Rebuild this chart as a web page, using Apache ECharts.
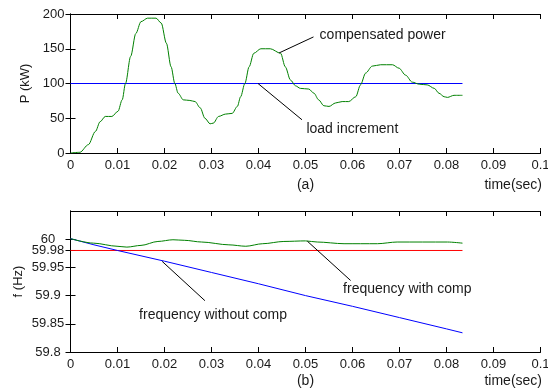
<!DOCTYPE html>
<html>
<head>
<meta charset="utf-8">
<script src="https://cdn.jsdelivr.net/npm/echarts@6/dist/echarts.min.js"></script>
<style>
  html, body { margin: 0; padding: 0; background: #fff; }
  #main { width: 548px; height: 389px; }
</style>
</head>
<body>
<div id="main"></div>
<script>
// (a) compensated power, kW
var pTime = [0, 0.002, 0.0038, 0.0053, 0.0063, 0.0074, 0.0088, 0.0101, 0.011, 0.0117,
  0.0128, 0.0139, 0.015, 0.0164, 0.0182, 0.0193, 0.0204, 0.0214, 0.0222, 0.0229,
  0.024, 0.0254, 0.0265, 0.0276, 0.0286, 0.0297, 0.0304, 0.0315, 0.033, 0.0344,
  0.0355, 0.0362, 0.0371, 0.038, 0.039, 0.0405, 0.0425, 0.0447, 0.0457, 0.0468,
  0.0479, 0.0489, 0.0507, 0.0518, 0.0528, 0.0539, 0.055, 0.0564, 0.0578, 0.0592,
  0.0607, 0.0617, 0.0628, 0.0642, 0.066, 0.0685, 0.0699, 0.0713, 0.0727, 0.0742,
  0.0759, 0.0774, 0.0784, 0.0795, 0.0802, 0.0816, 0.0834];
var pComp = [0, 1, 12, 31, 45, 52.6, 52.6, 60, 76.5, 100,
  139, 172, 189, 194, 194, 187, 158, 124, 100, 86,
  76.5, 75.6, 74, 65, 50, 42, 43, 52.6, 56, 57,
  67, 81, 100, 124, 143.5, 150, 150, 143.5, 124, 105,
  96.6, 93, 92, 86, 76.5, 68, 67, 72, 74, 74,
  81, 98, 115, 125, 127, 127, 122, 112, 102, 99,
  98, 93, 86, 81, 80, 83, 83];
var loadTime = [0, 0.0834];
var loadLevel = [100, 100];

// (b) frequency, Hz
var fWithTime = [0, 0.0049, 0.0099, 0.012, 0.015, 0.0186, 0.0218, 0.0243, 0.0279, 0.0337,
  0.0373, 0.0409, 0.0454, 0.05, 0.0525, 0.0582, 0.0653, 0.0695, 0.0802, 0.0834];
var fWith = [60.001, 59.993, 59.9875, 59.986, 59.989, 59.996, 59.999, 59.998, 59.995, 59.990,
  59.9875, 59.992, 59.996, 59.997, 59.995, 59.992, 59.992, 59.995, 59.995, 59.993];
var fNoTime = [0, 0.005, 0.01, 0.02, 0.03, 0.04, 0.05, 0.06, 0.07, 0.08, 0.0834];
var fWithout = [60.001, 59.99, 59.98, 59.961, 59.941, 59.921, 59.9, 59.881, 59.861, 59.841, 59.834];
var refTime = [0, 0.0834];
var refFreq = [59.98, 59.98];
var fTicks = [59.8, 59.85, 59.9, 59.95, 59.98, 60];
var fLabelsA = [59.8, 59.85, 59.9, 59.95, 60];
var fLabelsB = [59.98];

// annotations: [grid, from, to, textAt, text]
var notes = [
  [0, [0.0444, 144], [0.0517, 167], [0.0530, 169.8], 'compensated power'],
  [0, [0.0399, 100], [0.04925, 47.8], [0.0502, 34.5], 'load increment'],
  [1, [0.0195, 59.9607], [0.0286, 59.891], [0.0146, 59.8655], 'frequency without comp'],
  [1, [0.0504, 59.9964], [0.0596, 59.9268], [0.058, 59.912], 'frequency with comp']
];

function zip(xs, ys) {
  return xs.map(function (x, i) { return [x, ys[i]]; });
}

var font = 'Liberation Sans, Arial, sans-serif';
var txt = '#1a1a1a';
var fmt = function (v) { return String(+v.toFixed(2)); };

function xAx(grid, pos, name) {
  return {
    type: 'value', gridIndex: grid, position: pos, min: 0, max: 0.1, interval: 0.01,
    axisLine: { show: true, onZero: false, lineStyle: { color: '#000', width: 1 } },
    axisTick: { show: true, inside: true, length: 5, lineStyle: { color: '#000' } },
    axisLabel: {
      show: pos === 'bottom', margin: 6, color: txt, fontSize: 13, fontFamily: font, formatter: fmt
    },
    splitLine: { show: false },
    name: name, nameLocation: 'middle', nameGap: grid === 0 ? 25 : 22,
    nameTextStyle: { color: txt, fontSize: 14, fontFamily: font }
  };
}

// frequency axis label layer (two layers so close labels both show)
function fLabelAx(values) {
  return {
    type: 'value', gridIndex: 1, position: 'left', min: 59.8, max: 60.05,
    axisLine: { show: false }, axisTick: { show: false }, splitLine: { show: false },
    axisLabel: {
      customValues: values, align: 'center', margin: 22.5, color: txt, fontSize: 13, fontFamily: font,
      showMinLabel: true, showMaxLabel: true, formatter: fmt
    }
  };
}

var chart = echarts.init(document.getElementById('main'));
var option = {
  animation: false,
  grid: [
    { left: 70.5, right: 7.5, top: 14, height: 139, outerBoundsMode: 'none' },
    { left: 70.5, right: 7.5, top: 211, height: 141, outerBoundsMode: 'none' }
  ],
  xAxis: [
    xAx(0, 'bottom', '(a)'), xAx(0, 'top', ''),
    xAx(1, 'bottom', '(b)'), xAx(1, 'top', '')
  ],
  yAxis: [
    {
      type: 'value', gridIndex: 0, position: 'left', min: 0, max: 200, interval: 50,
      axisLine: { show: true, lineStyle: { color: '#000' } },
      axisTick: { show: true, inside: true, length: 5, lineStyle: { color: '#000' } },
      axisLabel: { margin: 6, color: txt, fontSize: 13, fontFamily: font },
      splitLine: { show: false },
      name: 'P (kW)', nameLocation: 'middle', nameGap: 31,
      nameTextStyle: { color: txt, fontSize: 13, fontFamily: font }
    },
    {
      type: 'value', gridIndex: 0, position: 'right', min: 0, max: 200, interval: 50,
      axisLine: { show: true, lineStyle: { color: '#000' } },
      axisTick: { show: true, inside: true, length: 5, lineStyle: { color: '#000' } },
      axisLabel: { show: false }, splitLine: { show: false }
    },
    {
      type: 'value', gridIndex: 1, position: 'left', min: 59.8, max: 60.05,
      axisLine: { show: true, lineStyle: { color: '#000' } },
      axisTick: { show: true, inside: true, length: 5, customValues: fTicks, lineStyle: { color: '#000' } },
      axisLabel: { show: false },
      splitLine: { show: false },
      name: 'f (Hz)', nameLocation: 'middle', nameGap: 46,
      nameTextStyle: { color: txt, fontSize: 13, fontFamily: font }
    },
    {
      type: 'value', gridIndex: 1, position: 'right', min: 59.8, max: 60.05,
      axisLine: { show: true, lineStyle: { color: '#000' } },
      axisTick: { show: true, inside: true, length: 5, customValues: fTicks, lineStyle: { color: '#000' } },
      axisLabel: { show: false }, splitLine: { show: false }
    },
    fLabelAx(fLabelsA),
    fLabelAx(fLabelsB)
  ],
  series: [
    {
      type: 'line', xAxisIndex: 0, yAxisIndex: 0, data: zip(loadTime, loadLevel),
      showSymbol: false, lineStyle: { color: '#0000ff', width: 1 }
    },
    {
      type: 'line', xAxisIndex: 0, yAxisIndex: 0, data: zip(pTime, pComp),
      showSymbol: false, smooth: 0.3, smoothMonotone: 'x',
      lineStyle: { color: '#008000', width: 1 }
    },
    {
      type: 'line', xAxisIndex: 2, yAxisIndex: 2, data: zip(refTime, refFreq),
      showSymbol: false, lineStyle: { color: '#ff0000', width: 1 }
    },
    {
      type: 'line', xAxisIndex: 2, yAxisIndex: 2, data: zip(fNoTime, fWithout),
      showSymbol: false, lineStyle: { color: '#0000ff', width: 1 }
    },
    {
      type: 'line', xAxisIndex: 2, yAxisIndex: 2, data: zip(fWithTime, fWith),
      showSymbol: false, smooth: 0.3, smoothMonotone: 'x',
      lineStyle: { color: '#008000', width: 1 }
    }
  ]
};
chart.setOption(option);

// leader lines and labels placed through the grid scales
var gfx = [];
notes.forEach(function (n) {
  var a = chart.convertToPixel({ gridIndex: n[0] }, n[1]);
  var b = chart.convertToPixel({ gridIndex: n[0] }, n[2]);
  var t = chart.convertToPixel({ gridIndex: n[0] }, n[3]);
  gfx.push({
    type: 'line', shape: { x1: a[0], y1: a[1], x2: b[0], y2: b[1] },
    style: { stroke: '#000', lineWidth: 1 }, z: 10
  });
  gfx.push({
    type: 'text', x: t[0], y: t[1], z: 10,
    style: { text: n[4], fill: txt, font: '14px ' + font, textAlign: 'left', textVerticalAlign: 'middle' }
  });
});
gfx.push({
  type: 'text', x: 542, y: 185,
  style: { text: 'time(sec)', fill: txt, font: '14px ' + font, textAlign: 'right', textVerticalAlign: 'middle' }
});
gfx.push({
  type: 'text', x: 542, y: 381,
  style: { text: 'time(sec)', fill: txt, font: '14px ' + font, textAlign: 'right', textVerticalAlign: 'middle' }
});
chart.setOption({ graphic: gfx });
</script>
</body>
</html>
